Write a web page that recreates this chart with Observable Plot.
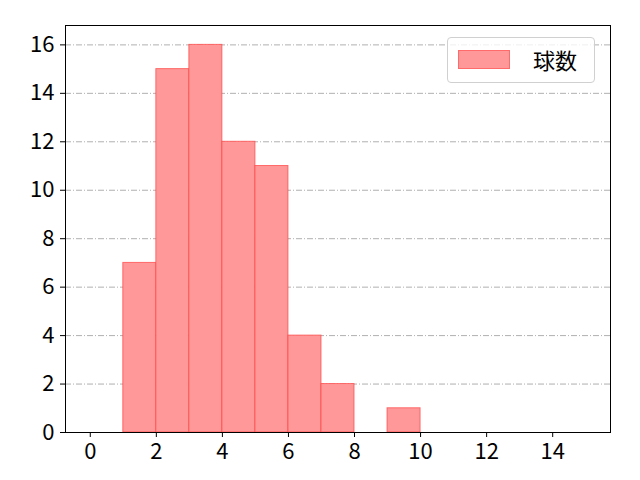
<!DOCTYPE html>
<html>
<head>
<meta charset="utf-8">
<script src="https://cdn.jsdelivr.net/npm/d3@7"></script>
<script src="https://cdn.jsdelivr.net/npm/@observablehq/plot@0.6"></script>
<style>
  body { margin: 0; background: white; }
  #wrap { position: relative; width: 640px; height: 480px; }
  #wrap svg text { font-size: 22px; fill: #000; }
  #legend {
    position: absolute; left: 447px; top: 37px; width: 146px; height: 44px;
    border: 1px solid #d0d0d0; border-radius: 4px; background: rgba(255,255,255,0.8);
    font-family: "Noto Sans CJK JP", sans-serif; font-size: 22px; color: #000;
  }
  #legend .patch {
    position: absolute; left: 10px; top: 12px; width: 52px; height: 19px;
    background: #ff9999; border: 1px solid #ff6b6b; box-sizing: border-box;
  }
  #legend .lab { position: absolute; left: 85px; top: 5px; line-height: 32px; }
</style>
</head>
<body>
<div id="wrap"></div>
<script>
const binStarts = [0,1,2,3,4,5,6,7,8,9,10,11,12,13,14];
const counts    = [0,7,15,16,12,11,4,2,0,1,0,0,0,0,0];
const xTicks = [0,2,4,6,8,10,12,14];
const yTicks = [0,2,4,6,8,10,12,14,16];
const seriesName = "球数";

const bins = binStarts.map((s, i) => ({x1: s, x2: s + 1, count: counts[i]})).filter(d => d.count > 0);

const chart = Plot.plot({
  width: 640,
  height: 480,
  marginLeft: 65,
  marginRight: 30,
  marginTop: 25,
  marginBottom: 48,
  style: {fontSize: "22px", fontFamily: "'Noto Sans CJK JP', sans-serif", color: "#000", background: "white"},
  x: {domain: [-0.75, 15.75], ticks: xTicks, label: null},
  y: {domain: [0, 16.8], ticks: yTicks, label: null},
  marks: [
    Plot.ruleY(yTicks.filter(v => v > 0), {stroke: "#b0b0b0", strokeWidth: 1, strokeDasharray: "6,2,1,2"}),
    Plot.rectY(bins, {x1: "x1", x2: "x2", y: "count", fill: "#ff9999", stroke: "#ff4040", strokeOpacity: 0.7, strokeWidth: 1}),
    Plot.axisX({ticks: xTicks, tickSize: 5, tickPadding: 6, fontSize: 22, label: null}),
    Plot.axisY({ticks: yTicks, tickSize: 5, tickPadding: 6, fontSize: 22, label: null}),
    Plot.frame({stroke: "black", strokeWidth: 1})
  ]
});
const wrap = document.getElementById("wrap");
wrap.appendChild(chart);
const lg = document.createElement("div");
lg.id = "legend";
lg.innerHTML = '<div class="patch"></div><div class="lab">' + seriesName + '</div>';
wrap.appendChild(lg);
</script>
</body>
</html>
